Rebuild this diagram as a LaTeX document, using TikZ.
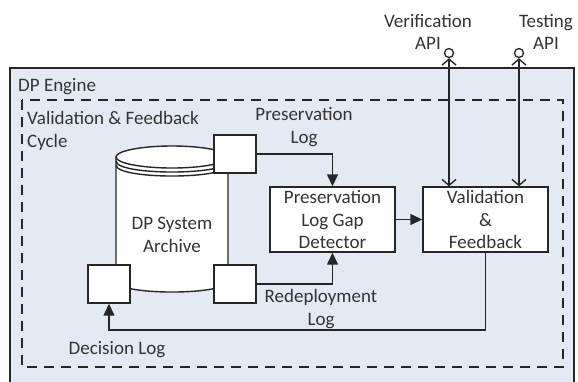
\documentclass[tikz,border=0pt]{standalone}
\usepackage{fontspec}
\setmainfont{Carlito}
\usetikzlibrary{arrows.meta}
\definecolor{bgblue}{HTML}{E4EAF4}
\definecolor{ink}{HTML}{262626}
\definecolor{txt}{HTML}{333333}
\begin{document}
\begin{tikzpicture}[x=1pt,y=-1pt,
  font=\fontsize{19}{22.5}\selectfont,
  every node/.style={text=txt},
  line/.style={draw=ink,line width=1.4pt},
  box/.style={line,fill=white,minimum width=125pt,minimum height=65pt,align=center,inner sep=0pt},
  port/.style={line,fill=white,minimum width=42pt,minimum height=38pt,inner sep=0pt},
  lbl/.style={align=center,inner sep=0pt},
  flow/.style={line,-{Triangle[length=12pt,width=11pt]}},
  api/.style={line,{Straight Barb[length=6pt,width=14pt]}-{Straight Barb[length=6pt,width=14pt]}},
  socket/.style={circle,draw=ink,line width=1.3pt,minimum size=9pt,inner sep=0pt}]
\useasboundingbox (0,0) rectangle (578,381);
\begin{scope}
\clip (0,0) rectangle (578,381);
\draw[line,fill=bgblue] (10,68) rectangle (574,395);
\end{scope}
\draw[line,dash pattern=on 10pt off 7pt] (22,100) rectangle (563,367);
\node[anchor=west,inner sep=0pt] (eng) at (18,87) {DP Engine};
\node[anchor=west,align=left,inner sep=0pt] (cyc) at (27,131) {Validation \& Feedback\\Cycle};
% cylinder
\draw[line,fill=white] (116,157) -- (116,281) .. controls (116,295.7) and (228,295.7) .. (228,281) -- (228,157);
\draw[line,fill=white] (172,157) ellipse [x radius=56, y radius=11];
\draw[line] (116,161) .. controls (116,175.7) and (228,175.7) .. (228,161);
\draw[line] (116,165) .. controls (116,179.7) and (228,179.7) .. (228,165);
\node[lbl] (arch) at (172,235) {DP System\\Archive};
% ports
\node[port] (plog) at (235,154) {};
\node[port] (rlog) at (235,284) {};
\node[port] (dlog) at (109,284) {};
% boxes
\node[box] (det) at (332.5,219.5) {Preservation\\Log Gap\\Detector};
\node[box] (val) at (485.5,219.5) {Validation\\\&\\Feedback};
% api sockets
\node[socket] (vapi) at (449,53) {};
\node[socket] (tapi) at (519,53) {};
\node[lbl] (vtxt) at (428,32) {Verification\\API};
\node[lbl] (ttxt) at (546,32) {Testing\\API};
\draw[api] (vapi.south) -- (vapi.south |- val.north);
\draw[api] (tapi.south) -- (tapi.south |- val.north);
% flows
\draw[flow] (plog.east) -| (det.north);
\draw[flow] (rlog.east) -| (det.south);
\draw[flow] (det.east) -- (val.west);
\coordinate (dl) at (0,330);
\draw[flow] (val.south) -- (val.south |- dl) -| (dlog.south);
% labels
\node[lbl] (pl) at (304,127) {Preservation\\Log};
\node[lbl] (rl) at (321,309) {Redeployment\\Log};
\node[lbl] (dlt) at (117,350) {Decision Log};
\end{tikzpicture}
\end{document}
